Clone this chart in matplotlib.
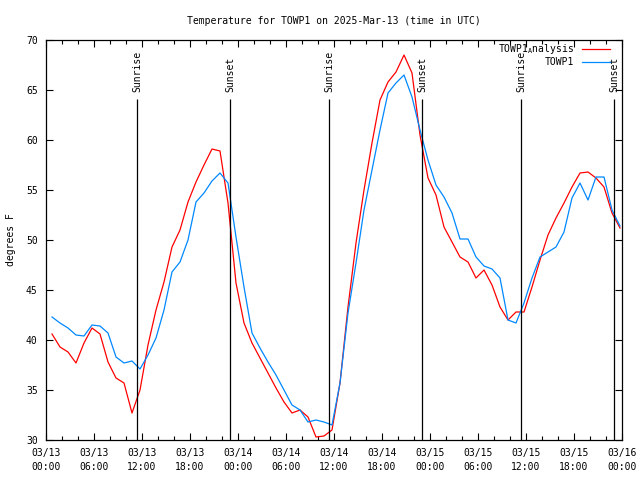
import numpy as np
import matplotlib
matplotlib.use("Agg")
import matplotlib.pyplot as plt

# hours since 2025-03-13 00:00 UTC, one value per hour (at :45)
hours = np.arange(72) + 0.75

analysis = [40.6, 39.3, 38.8, 37.7, 39.7, 41.2, 40.6, 37.8, 36.2, 35.7, 32.7, 35.0,
            39.5, 43.0, 45.8, 49.3, 51.0, 53.8, 55.8, 57.5, 59.1, 58.9,
            53.7, 45.7, 41.7, 39.7, 38.2, 36.7, 35.2, 33.8, 32.7, 33.0, 32.3, 30.3,
            30.4, 31.0, 35.7, 43.3, 49.7, 55.0, 59.7, 64.0, 65.8, 66.8, 68.5, 66.7,
            60.5, 56.2,
            54.5, 51.3, 49.8, 48.3, 47.8, 46.2, 47.0, 45.5, 43.3, 42.0, 42.8, 42.8,
            45.3, 48.0, 50.5, 52.2, 53.7, 55.3, 56.7, 56.8, 56.2, 55.3, 52.7, 51.2]

obs = [42.3, 41.7, 41.2, 40.5, 40.4, 41.5, 41.4, 40.7, 38.3, 37.7, 37.9, 37.1,
       38.5, 40.2, 43.0, 46.8, 47.8, 50.0, 53.8, 54.7, 55.9, 56.7,
       55.7, 50.3, 45.3, 40.7, 39.2, 37.8, 36.5, 35.0, 33.5, 33.0, 31.8, 32.0,
       31.8, 31.5, 35.7, 42.7, 47.7, 53.0, 57.0, 61.0, 64.7, 65.7, 66.5, 64.3,
       61.0, 58.0,
       55.5, 54.3, 52.7, 50.1, 50.1, 48.3, 47.4, 47.1, 46.2, 42.0, 41.7, 43.7,
       46.2, 48.3, 48.8, 49.3, 50.8, 54.2, 55.7, 54.0, 56.3, 56.3, 53.0, 51.4]

sunrise = [11.4, 35.38, 59.37]
sunset = [23.04, 47.05, 71.05]

xticks = list(range(0, 73, 6))
xlabels = ["03/13\n00:00", "03/13\n06:00", "03/13\n12:00", "03/13\n18:00",
           "03/14\n00:00", "03/14\n06:00", "03/14\n12:00", "03/14\n18:00",
           "03/15\n00:00", "03/15\n06:00", "03/15\n12:00", "03/15\n18:00",
           "03/16\n00:00"]
yticks = [30, 35, 40, 45, 50, 55, 60, 65, 70]

plt.rcParams['font.family'] = ['DejaVu Sans Mono']
plt.rcParams['mathtext.fontset'] = 'dejavusans'
plt.rcParams['font.size'] = 7

fig = plt.figure(figsize=(6.4, 4.8), dpi=100)
ax = fig.add_axes([46/640, 40/480, 576/640, 400/480])

ax.plot(hours, analysis, color='#ff0000', lw=0.9, label=r'TOWP1$_\mathtt{A}$nalysis')
ax.plot(hours, obs, color='#0088ff', lw=0.9, label='TOWP1')

# sunrise / sunset markers
for t in sunrise:
    ax.vlines(t, 30, 64.1, color='black', lw=0.9)
    ax.text(t, 64.8, 'Sunrise', rotation=90, ha='center', va='bottom')
for t in sunset:
    ax.vlines(t, 30, 64.1, color='black', lw=0.9)
    ax.text(t, 64.8, 'Sunset', rotation=90, ha='center', va='bottom')

ax.set_xlim(0, 72)
ax.set_ylim(30, 70)
ax.set_xticks(xticks)
ax.set_xticklabels(xlabels, linespacing=1.5)
ax.set_xticks(range(0, 73, 2), minor=True)
ax.set_yticks(yticks)
ax.tick_params(direction='in', top=True, right=True, length=5, width=0.8, pad=6)
ax.tick_params(which='minor', direction='in', top=True, length=3, width=0.8)
for s in ax.spines.values():
    s.set_linewidth(0.9)

ax.set_title('Temperature for TOWP1 on 2025-Mar-13 (time in UTC)', fontsize=7, pad=11.5)
fig.text(11/640, 0.5, 'degrees F', rotation=90, ha='center', va='center')

ax.legend(loc='upper right', bbox_to_anchor=(0.983, 1.0), frameon=False,
          markerfirst=False, handlelength=2.9, borderaxespad=0, borderpad=0.2,
          labelspacing=0.12, handletextpad=0.8)

fig.savefig('out.png', dpi=100)
